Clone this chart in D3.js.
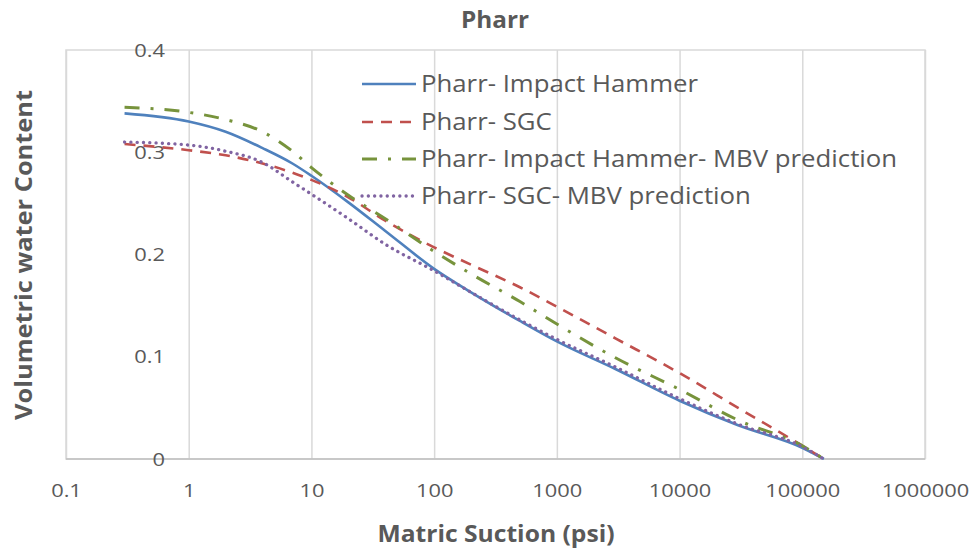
<!DOCTYPE html>
<html>
<head>
<meta charset="utf-8">
<script src="https://cdn.jsdelivr.net/npm/d3@7"></script>
<style>
  html, body { margin: 0; padding: 0; background: #fff; }
  svg { display: block; }
  text { font-family: "Open Sans", "Liberation Sans", sans-serif; fill: #595959; }
</style>
</head>
<body>
<svg id="chart" width="980" height="550"></svg>
<script>
// ---- data ----
const chartTitle = "Pharr";
const xTitle = "Matric Suction (psi)";
const yTitle = "Volumetric water Content";
const xTickValues = [0.1, 1, 10, 100, 1000, 10000, 100000, 1000000];
const yTickValues = [0, 0.1, 0.2, 0.3, 0.4];
const suction = [0.3, 1, 2, 4, 7, 10, 20, 40, 100, 200, 500, 1000, 3000, 10000, 30000, 100000, 150000];
const impactHammer = [0.338, 0.330, 0.320, 0.304, 0.289, 0.277, 0.251, 0.223, 0.186, 0.163, 0.135, 0.115, 0.088, 0.057, 0.033, 0.011, 0];
const sgc = [0.308, 0.302, 0.297, 0.289, 0.280, 0.273, 0.256, 0.233, 0.207, 0.190, 0.168, 0.149, 0.118, 0.084, 0.050, 0.013, 0];
const impactHammerMbv = [0.344, 0.339, 0.332, 0.320, 0.301, 0.285, 0.258, 0.235, 0.203, 0.181, 0.154, 0.132, 0.099, 0.068, 0.038, 0.013, 0];
const sgcMbv = [0.310, 0.307, 0.301, 0.290, 0.271, 0.259, 0.235, 0.210, 0.184, 0.163, 0.136, 0.117, 0.090, 0.059, 0.034, 0.012, 0];
const seriesNames = ["Pharr- Impact Hammer", "Pharr- SGC", "Pharr- Impact Hammer- MBV prediction", "Pharr- SGC- MBV prediction"];
const seriesValues = [impactHammer, sgc, impactHammerMbv, sgcMbv];

// ---- styles ----
const styles = [
  { color: "#4F81BD", dash: null, cap: "butt", width: 2.6 },
  { color: "#C0504D", dash: "11 8", cap: "butt", width: 2.6 },
  { color: "#77933C", dash: "15 11 3 11", cap: "butt", width: 3 },
  { color: "#8064A2", dash: "0.1 6.2", cap: "round", width: 3.3 }
];

(function () {
const svg = d3.select("#chart");
const pLeft = 66, pRight = 925, pTop = 50, pBottom = 459;
const x = d3.scaleLog().domain([0.1, 1000000]).range([pLeft, pRight]);
const y = d3.scaleLinear().domain([0, 0.4]).range([pBottom, pTop]);

function stretch(sel, factor) {
  sel.each(function() {
    const w = this.getComputedTextLength();
    d3.select(this).attr("textLength", w * factor).attr("lengthAdjust", "spacingAndGlyphs");
  });
}

// vertical gridlines
svg.append("g")
  .attr("transform", `translate(0,${pBottom})`)
  .call(d3.axisBottom(x).tickValues(xTickValues).tickSize(-(pBottom - pTop)).tickFormat(""))
  .call(g => g.select(".domain").remove())
  .call(g => g.selectAll("line").attr("stroke", "#d9d9d9").attr("stroke-width", 1.5));

// plot border
svg.append("rect")
  .attr("x", pLeft).attr("y", pTop).attr("width", pRight - pLeft).attr("height", pBottom - pTop)
  .attr("fill", "none").attr("stroke", "#d9d9d9").attr("stroke-width", 1.5);

// x-axis line at 0
svg.append("line")
  .attr("x1", pLeft).attr("x2", pRight).attr("y1", y(0)).attr("y2", y(0))
  .attr("stroke", "#bfbfbf").attr("stroke-width", 1.5);

// x tick labels
const fmtX = d => d < 1 ? String(d) : d3.format("d")(d);
const xLab = svg.append("g")
  .attr("transform", `translate(0,${pBottom})`)
  .call(d3.axisBottom(x).tickValues(xTickValues).tickSize(0).tickPadding(25).tickFormat(fmtX))
  .call(g => g.select(".domain").remove());
xLab.selectAll("text").attr("font-size", 19).attr("fill", "#595959").style("font-family", "Open Sans");
stretch(xLab.selectAll("text"), 1.15);

// y tick labels
const yLab = svg.append("g")
  .attr("transform", `translate(165,0)`)
  .call(d3.axisLeft(y).tickValues(yTickValues).tickSize(0).tickPadding(0).tickFormat(d => d === 0 ? "0" : d3.format(".1f")(d)))
  .call(g => g.select(".domain").remove());
yLab.selectAll("text").attr("font-size", 19).attr("fill", "#595959").style("font-family", "Open Sans");
stretch(yLab.selectAll("text"), 1.15);

// series lines
const line = d3.line()
  .x(d => x(d[0]))
  .y(d => y(d[1]))
  .curve(d3.curveMonotoneX);

seriesValues.forEach((vals, i) => {
  const st = styles[i];
  svg.append("path")
    .datum(suction.map((s, j) => [s, vals[j]]))
    .attr("fill", "none")
    .attr("stroke", st.color)
    .attr("stroke-width", st.width)
    .attr("stroke-dasharray", st.dash)
    .attr("stroke-linecap", st.cap)
    .attr("d", line);
});

// legend
const legendRows = [84, 122, 159, 196];
const lg = svg.append("g");
seriesNames.forEach((name, i) => {
  const st = styles[i];
  lg.append("line")
    .attr("x1", 362).attr("x2", 416).attr("y1", legendRows[i]).attr("y2", legendRows[i])
    .attr("stroke", st.color).attr("stroke-width", st.width)
    .attr("stroke-dasharray", st.dash).attr("stroke-linecap", st.cap);
  lg.append("text")
    .attr("x", 421).attr("y", legendRows[i]).attr("dy", "0.35em")
    .attr("font-size", 23).text(name);
});
stretch(lg.selectAll("text"), 1.12);

// title
svg.append("text").attr("x", 495).attr("y", 28).attr("text-anchor", "middle")
  .attr("font-size", 24).attr("font-weight", "bold").text(chartTitle)
  .attr("textLength", 68).attr("lengthAdjust", "spacingAndGlyphs");

// axis titles
svg.append("text").attr("x", 496).attr("y", 542).attr("text-anchor", "middle")
  .attr("font-size", 23).attr("font-weight", "bold").text(xTitle)
  .attr("textLength", 237).attr("lengthAdjust", "spacingAndGlyphs");
svg.append("text").attr("transform", "translate(32,255) rotate(-90)").attr("text-anchor", "middle")
  .attr("font-size", 23).attr("font-weight", "bold").text(yTitle)
  .attr("textLength", 330).attr("lengthAdjust", "spacingAndGlyphs");
})();
</script>
</body>
</html>
